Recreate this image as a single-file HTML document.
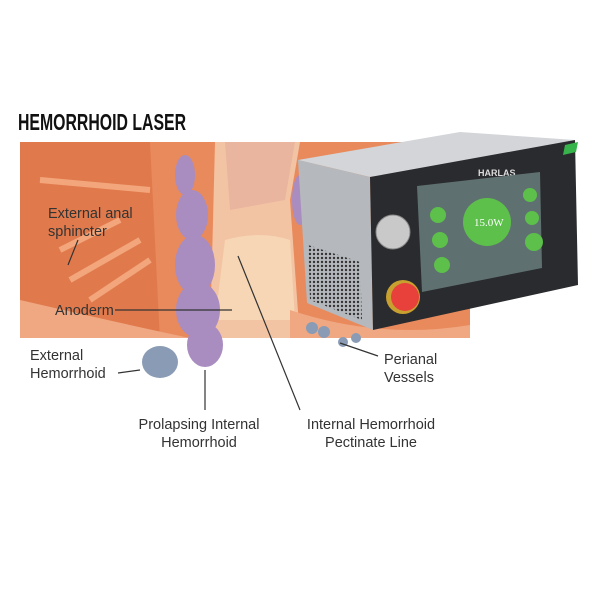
<!DOCTYPE html>
<html><head><style>
body{margin:0;background:#fff;width:600px;height:600px;overflow:hidden}
svg{display:block}
</style></head><body>
<svg width="600" height="600" viewBox="0 0 600 600" xmlns="http://www.w3.org/2000/svg">
<defs>
<pattern id="vent" width="4" height="4" patternUnits="userSpaceOnUse"><rect width="4" height="4" fill="#b5b8bc"/><circle cx="2" cy="2" r="1.2" fill="#333"/></pattern>
</defs>
<rect width="600" height="600" fill="#fff"/>
<text x="18" y="130" font-family="Liberation Sans Narrow, Liberation Sans, sans-serif" font-weight="bold" font-size="23" fill="#111" textLength="168" lengthAdjust="spacingAndGlyphs">HEMORRHOID LASER</text>
<!-- anatomy -->
<rect x="20" y="142" width="450" height="196" fill="#e98a5c"/>
<path d="M20 142 H150 L160 340 H20Z" fill="#e07a4c"/>
<path d="M215 142 H300 L290 200 L300 340 H210Z" fill="#f3c4a4"/>
<path d="M225 142 H295 L285 200 L230 210Z" fill="#eab59e"/>
<path d="M225 240 Q260 230 290 240 L295 320 H215Z" fill="#f6d6b4"/>
<path d="M60 250 L120 220 M70 280 L140 240 M90 300 L150 260 M40 180 L150 190" stroke="#f3a67c" stroke-width="6" fill="none"/>
<path d="M20 300 Q150 330 200 340 H20Z" fill="#f0a882"/>
<path d="M290 310 Q380 340 470 325 V338 H290Z" fill="#f0a882"/>
<path d="M20 338 H470 V345 H20Z" fill="#fff"/>
<!-- purple hemorrhoids -->
<g fill="#a98cc0">
<ellipse cx="185" cy="175" rx="10" ry="20"/>
<ellipse cx="192" cy="215" rx="16" ry="25"/>
<ellipse cx="195" cy="265" rx="20" ry="30"/>
<ellipse cx="198" cy="310" rx="22" ry="28"/>
<ellipse cx="205" cy="345" rx="18" ry="22"/>
<ellipse cx="300" cy="200" rx="8" ry="25"/>
</g>
<g fill="#8a9bb5">
<ellipse cx="160" cy="362" rx="18" ry="16"/>
<circle cx="312" cy="328" r="6"/><circle cx="324" cy="332" r="6"/>
<circle cx="343" cy="342" r="5"/><circle cx="356" cy="338" r="5"/>
</g>
<!-- leader lines -->
<g stroke="#333" stroke-width="1.2" fill="none">
<line x1="78" y1="240" x2="68" y2="265"/>
<line x1="115" y1="310" x2="232" y2="310"/>
<line x1="118" y1="373" x2="140" y2="370"/>
<line x1="205" y1="370" x2="205" y2="410"/>
<line x1="238" y1="256" x2="300" y2="410"/>
<line x1="340" y1="343" x2="378" y2="356"/>
</g>
<g font-family="Liberation Sans, sans-serif" font-size="14.5" fill="#333">
<text x="48" y="218">External anal</text>
<text x="48" y="236">sphincter</text>
<text x="55" y="315">Anoderm</text>
<text x="30" y="360">External</text>
<text x="30" y="378">Hemorrhoid</text>
<text x="199" y="429" text-anchor="middle">Prolapsing Internal</text>
<text x="199" y="447" text-anchor="middle">Hemorrhoid</text>
<text x="371" y="429" text-anchor="middle">Internal Hemorrhoid</text>
<text x="371" y="447" text-anchor="middle">Pectinate Line</text>
<text x="384" y="364">Perianal</text>
<text x="384" y="382">Vessels</text>
</g>
<!-- device -->
<path d="M298 160 L460 132 L575 140 L540 157 L370 177Z" fill="#d3d5d8"/>
<path d="M298 160 L370 177 L373 330 L307 303Z" fill="#b5b8bc"/>
<path d="M308 245 L360 262 L362 320 L310 300Z" fill="url(#vent)"/>
<path d="M370 177 L575 140 L578 285 L373 330Z" fill="#2a2b2e"/>
<path d="M565 145 L578 142 L576 152 L563 155Z" fill="#36b34a"/>
<text x="478" y="176" font-family="Liberation Sans, sans-serif" font-weight="bold" font-size="9" fill="#ddd">HARLAS</text>
<path d="M417 186 L540 172 L542 268 L422 292Z" fill="#5f7070"/>
<circle cx="487" cy="222" r="24" fill="#5cc04a"/>
<text x="474" y="226" font-family="Liberation Serif, serif" font-size="11" fill="#fff">15.0W</text>
<circle cx="438" cy="215" r="8" fill="#5cc04a"/><circle cx="440" cy="240" r="8" fill="#5cc04a"/><circle cx="442" cy="265" r="8" fill="#5cc04a"/>
<circle cx="530" cy="195" r="7" fill="#5cc04a"/><circle cx="532" cy="218" r="7" fill="#5cc04a"/><circle cx="534" cy="242" r="9" fill="#5cc04a"/>
<circle cx="393" cy="232" r="17" fill="#c9c9c9" stroke="#888"/>
<circle cx="403" cy="297" r="17" fill="#c8a030"/>
<circle cx="405" cy="297" r="14" fill="#e8403a"/>
</svg>
</body></html>
